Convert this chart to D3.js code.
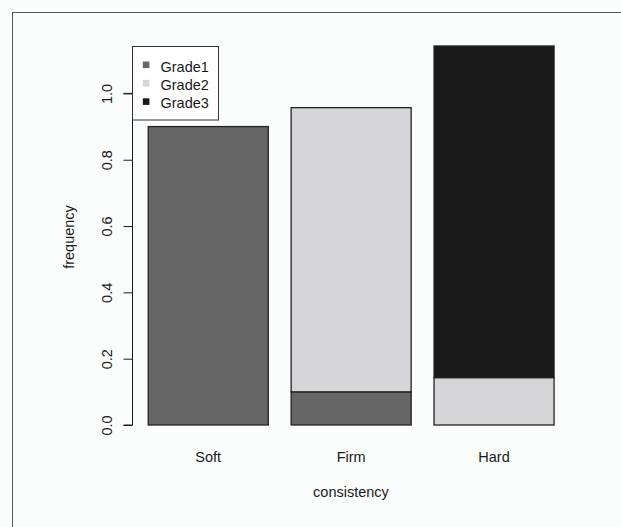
<!DOCTYPE html>
<html>
<head>
<meta charset="utf-8">
<script src="https://cdn.jsdelivr.net/npm/d3@7"></script>
<style>
  html, body { margin: 0; padding: 0; background: #fbfdfc; }
  svg { display: block; font-family: "Liberation Sans", Arial, sans-serif; }
</style>
</head>
<body>
<svg id="chart" width="621" height="527"></svg>
<script>
const categories = ["Soft", "Firm", "Hard"];
const seriesNames = ["Grade1", "Grade2", "Grade3"];
const grade1 = [0.9, 0.1, 0.0];
const grade2 = [0.0, 0.857, 0.143];
const grade3 = [0.0, 0.0, 1.0];
const yTicks = [0, 0.2, 0.4, 0.6, 0.8, 1.0];
const colors = ["#666666", "#d6d6d8", "#1a1a1a"];

const rows = categories.map((c, i) => ({
  cat: c, Grade1: grade1[i], Grade2: grade2[i], Grade3: grade3[i]
}));

const svg = d3.select("#chart");

// outer frame (top & left visible)
svg.append("rect").attr("x", 12.5).attr("y", 12.5).attr("width", 640).attr("height", 560)
  .attr("fill", "#fbfdfc").attr("stroke", "#555").attr("stroke-width", 1);

const x = d3.scaleBand().domain(categories).range([136.8, 565.5])
  .paddingInner(0.16).paddingOuter(0.08);
const y = d3.scaleLinear().domain([0, 1]).range([425, 93.4]);

const stack = d3.stack().keys(seriesNames);
const layers = stack(rows);

svg.append("g").selectAll("g").data(layers).join("g")
  .attr("fill", (d, i) => colors[i])
  .selectAll("rect").data(d => d.map(v => ({v, cat: v.data.cat}))).join("rect")
  .attr("x", d => x(d.cat))
  .attr("width", x.bandwidth())
  .attr("y", d => y(d.v[1]))
  .attr("height", d => y(d.v[0]) - y(d.v[1]))
  .attr("stroke", "#222")
  .attr("stroke-width", 1.3);

// y axis
const yAxis = d3.axisLeft(y).tickValues(yTicks).tickSize(9).tickFormat(d3.format(".1f"));
const ag = svg.append("g").attr("transform", "translate(132.5,0)").call(yAxis);
ag.select(".domain").attr("d", `M-9,${y(0)}H0V${y(1)}H-9`).attr("stroke", "#1a1a1a");
ag.selectAll(".tick line").attr("stroke", "#1a1a1a");
ag.selectAll(".tick text")
  .attr("x", null).attr("dy", null)
  .attr("transform", "translate(-20.5,0) rotate(-90)")
  .attr("text-anchor", "middle")
  .attr("fill", "#1a1a1a")
  .style("font-size", "14.5px")
  .style("font-family", "Liberation Sans, Arial, sans-serif");

// x category labels
svg.append("g").selectAll("text").data(categories).join("text")
  .attr("x", d => x(d) + x.bandwidth() / 2)
  .attr("y", 462)
  .attr("text-anchor", "middle")
  .attr("fill", "#1a1a1a")
  .style("font-size", "14.5px")
  .text(d => d);

// axis titles
svg.append("text").attr("x", 351).attr("y", 497).attr("text-anchor", "middle")
  .attr("fill", "#1a1a1a").style("font-size", "14.5px").text("consistency");
svg.append("text").attr("transform", "translate(74,237) rotate(-90)").attr("text-anchor", "middle")
  .attr("fill", "#1a1a1a").style("font-size", "14.5px").text("frequency");

// legend
const lg = svg.append("g");
lg.append("rect").attr("x", 132.5).attr("y", 46.5).attr("width", 86).attr("height", 73.5)
  .attr("fill", "#ffffff").attr("stroke", "#333").attr("stroke-width", 1);
const items = lg.selectAll("g.item").data(seriesNames).join("g").attr("class", "item")
  .attr("transform", (d, i) => `translate(0,${71.5 + i * 18.4})`);
items.append("rect").attr("x", 142.8).attr("y", -10).attr("width", 6.6).attr("height", 6.6)
  .attr("fill", (d, i) => colors[i]);
items.append("text").attr("x", 160.5).attr("y", 0).attr("fill", "#1a1a1a")
  .style("font-size", "14.5px").text(d => d);
</script>
</body>
</html>
